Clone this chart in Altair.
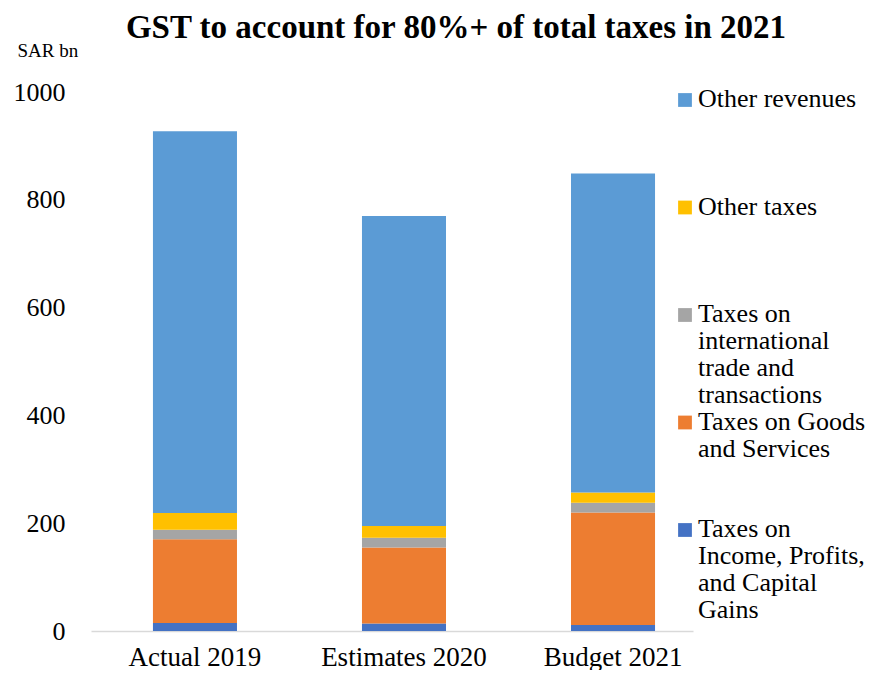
import altair as alt
import pandas as pd

categories = ["Actual 2019", "Estimates 2020", "Budget 2021"]
series = [
    "Taxes on Income, Profits, and Capital Gains",
    "Taxes on Goods and Services",
    "Taxes on international trade and transactions",
    "Other taxes",
    "Other revenues",
]
income = [15, 14, 11]
goods = [155, 141, 209]
intl = [18, 18, 18]
other_taxes = [31, 22, 19]
other_rev = [708, 575, 592]
legend_labels = [
    "Taxes on\nIncome, Profits,\nand Capital\nGains",
    "Taxes on Goods\nand Services",
    "Taxes on\ninternational\ntrade and\ntransactions",
    "Other taxes",
    "Other revenues",
]
colors = ["#4472C4", "#ED7D31", "#A5A5A5", "#FFC000", "#5B9BD5"]
y_ticks = [0, 200, 400, 600, 800, 1000]

SERIF = "Liberation Serif"

values_by_series = [income, goods, intl, other_taxes, other_rev]
rows = []
for si, (s, vals) in enumerate(zip(series, values_by_series)):
    for c, v in zip(categories, vals):
        rows.append({"category": c, "series": s, "value": v, "order": si})
df = pd.DataFrame(rows)

legend_order = list(reversed(series))
leg_df = pd.DataFrame({"series": series, "label": legend_labels})

color_scale = alt.Scale(domain=series, range=colors)

bars = alt.Chart(df).mark_bar().encode(
    x=alt.X(
        "category:N",
        sort=categories,
        scale=alt.Scale(paddingInner=0.598, paddingOuter=0.239, align=0.62),
        axis=alt.Axis(
            title=None, labelAngle=0, ticks=False, domainColor="#D9D9D9",
            domainWidth=1.5, labelFont=SERIF, labelFontSize=27,
            labelColor="black", labelPadding=13,
        ),
    ),
    y=alt.Y(
        "value:Q",
        stack="zero",
        scale=alt.Scale(domain=[0, 1000], nice=False),
        axis=alt.Axis(
            values=y_ticks, format="d", grid=False, domain=False, ticks=False,
            labelFont=SERIF, labelFontSize=26, labelColor="black",
            labelPadding=26, title="SAR bn", titleAngle=0, titleAlign="left",
            titleX=-74, titleY=-42, titleBaseline="middle", titleFont=SERIF,
            titleFontSize=19, titleFontWeight="normal", titleColor="black",
        ),
    ),
    color=alt.Color("series:N", scale=color_scale, legend=None),
    order=alt.Order("order:Q", sort="ascending"),
)

leg_y = alt.Y(
    "series:N", sort=legend_order,
    scale=alt.Scale(type="point", range=[8, 438], padding=0), axis=None,
)

sq = alt.Chart(leg_df).mark_square(size=190, opacity=1).encode(
    x=alt.value(594),
    y=leg_y,
    color=alt.Color("series:N", scale=color_scale, legend=None),
)
txt = alt.Chart(leg_df).mark_text(
    align="left", baseline="top", dy=-14, font=SERIF, fontSize=26,
    lineBreak="\n", lineHeight=27, color="black",
).encode(x=alt.value(607), y=leg_y, text="label:N")

chart = alt.layer(bars, alt.layer(sq, txt)).resolve_scale(y="independent").properties(
    width=602,
    height=539,
    autosize=alt.AutoSizeParams(type="none"),
    padding={"left": 83, "top": 84, "right": 179, "bottom": 39},
    background="white",
    title=alt.TitleParams(
        "GST to account for 80%+ of total taxes in 2021",
        font=SERIF, fontSize=33, fontWeight="bold", color="black",
        anchor="middle", dx=64, dy=8,
    ),
).configure_view(stroke=None)

chart.save("out.html", embed_options={"renderer": "svg", "actions": False})
